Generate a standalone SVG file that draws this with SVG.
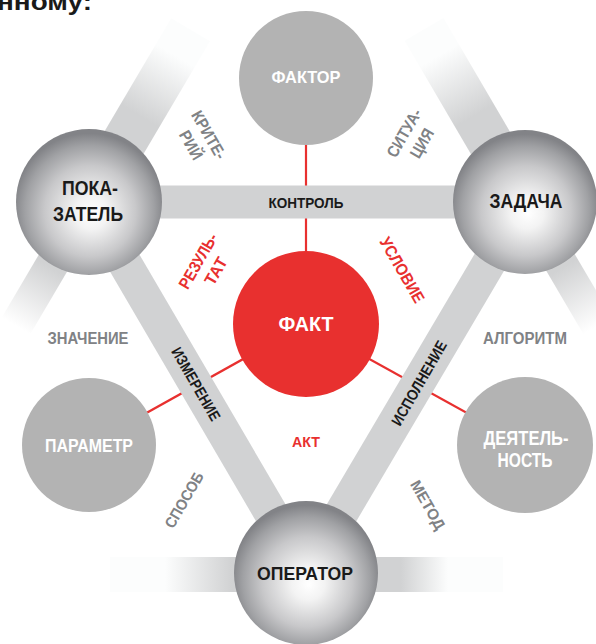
<svg xmlns="http://www.w3.org/2000/svg" width="596" height="644" viewBox="0 0 596 644">
<defs>
  <radialGradient id="sphere" cx="0.5" cy="0.55" r="0.52" fx="0.52" fy="0.58">
    <stop offset="0" stop-color="#ffffff"/>
    <stop offset="0.22" stop-color="#f3f3f3"/>
    <stop offset="0.6" stop-color="#c8c8ca"/>
    <stop offset="0.85" stop-color="#a0a1a4"/>
    <stop offset="1" stop-color="#828387"/>
  </radialGradient>
  <linearGradient id="gUL" gradientUnits="userSpaceOnUse" x1="89" y1="202" x2="190.6" y2="29.8">
    <stop offset="0" stop-color="#d1d2d3"/>
    <stop offset="0.5" stop-color="#d1d2d3"/>
    <stop offset="0.85" stop-color="#fcfdfd"/>
    <stop offset="1" stop-color="#fcfdfd"/>
  </linearGradient>
  <linearGradient id="gUR" gradientUnits="userSpaceOnUse" x1="525" y1="202" x2="424" y2="29.4">
    <stop offset="0" stop-color="#d1d2d3"/>
    <stop offset="0.5" stop-color="#d1d2d3"/>
    <stop offset="0.85" stop-color="#fcfdfd"/>
    <stop offset="1" stop-color="#fcfdfd"/>
  </linearGradient>
  <linearGradient id="gLL" gradientUnits="userSpaceOnUse" x1="89" y1="202" x2="-2.4" y2="357">
    <stop offset="0" stop-color="#d1d2d3"/>
    <stop offset="0.42" stop-color="#d1d2d3"/>
    <stop offset="0.8" stop-color="#ffffff"/>
    <stop offset="1" stop-color="#ffffff"/>
  </linearGradient>
  <linearGradient id="gLR" gradientUnits="userSpaceOnUse" x1="525" y1="202" x2="616" y2="357">
    <stop offset="0" stop-color="#d1d2d3"/>
    <stop offset="0.42" stop-color="#d1d2d3"/>
    <stop offset="0.8" stop-color="#ffffff"/>
    <stop offset="1" stop-color="#ffffff"/>
  </linearGradient>
  <linearGradient id="gB" gradientUnits="userSpaceOnUse" x1="110" y1="0" x2="503" y2="0">
    <stop offset="0" stop-color="#fcfdfd"/>
    <stop offset="0.14" stop-color="#fcfdfd"/>
    <stop offset="0.31" stop-color="#d1d2d3"/>
    <stop offset="0.74" stop-color="#d1d2d3"/>
    <stop offset="0.86" stop-color="#fcfdfd"/>
    <stop offset="1" stop-color="#fcfdfd"/>
  </linearGradient>
</defs>
<style>
  .bar{stroke:#d1d2d3;stroke-width:34;fill:none}
  .red{stroke:#e8302f;stroke-width:2.2;fill:none}
  .t{font-family:"Liberation Sans",Arial,sans-serif;font-weight:bold;text-anchor:middle}
  .wt{fill:#ffffff}
  .bk{fill:#1a1a1a}
  .gr{fill:#808285}
  .rd{fill:#e8302f}
  .gray{fill:#b3b3b3}
  .sph{fill:url(#sphere)}
</style>
<rect width="596" height="644" fill="#ffffff"/>
<text x="-3" y="10" font-family="Liberation Sans, Arial, sans-serif" font-weight="bold" font-size="24" fill="#1a1a1a" textLength="95" lengthAdjust="spacingAndGlyphs">нному:</text>

<g id="connectors">
  <line class="red" x1="306" y1="78" x2="306" y2="324"/>
  <line class="red" x1="306" y1="324" x2="89" y2="445"/>
  <line class="red" x1="306" y1="324" x2="525" y2="445"/>
  <line x1="89" y1="202" x2="190.6" y2="29.8" stroke="url(#gUL)" stroke-width="45"/>
  <line x1="525" y1="202" x2="424" y2="29.4" stroke="url(#gUR)" stroke-width="45"/>
  <line x1="89" y1="202" x2="-2.4" y2="357" stroke="url(#gLL)" stroke-width="33"/>
  <line x1="525" y1="202" x2="616" y2="357" stroke="url(#gLR)" stroke-width="33"/>
  <rect x="110" y="557" width="393" height="35" fill="url(#gB)"/>
  <line class="bar" x1="89" y1="202" x2="525" y2="202" style="stroke-width:33"/>
  <line class="bar" x1="89" y1="202" x2="306" y2="573"/>
  <line class="bar" x1="525" y1="202" x2="306" y2="573"/>
  <text class="t bk" x="306" y="208" font-size="15.5" textLength="75" lengthAdjust="spacingAndGlyphs">КОНТРОЛЬ</text>
  <text class="t bk" transform="translate(196,384) rotate(60)" x="0" y="5.5" font-size="15.5" textLength="82" lengthAdjust="spacingAndGlyphs">ИЗМЕРЕНИЕ</text>
  <text class="t bk" transform="translate(419,383) rotate(-60)" x="0" y="5.5" font-size="15.5" textLength="95" lengthAdjust="spacingAndGlyphs">ИСПОЛНЕНИЕ</text>
</g>

<g id="faktor">
  <circle class="gray" cx="306" cy="78" r="67"/>
  <text class="t wt" x="306" y="83" font-size="16.5" textLength="69" lengthAdjust="spacingAndGlyphs">ФАКТОР</text>
</g>
<g id="pokazatel">
  <circle class="sph" cx="89" cy="202" r="73"/>
  <text class="t bk" x="90" y="195" font-size="21" textLength="56" lengthAdjust="spacingAndGlyphs">ПОКА-</text>
  <text class="t bk" x="88" y="221" font-size="21" textLength="70" lengthAdjust="spacingAndGlyphs">ЗАТЕЛЬ</text>
</g>
<g id="zadacha">
  <circle class="sph" cx="525" cy="202" r="72"/>
  <text class="t bk" x="526" y="208" font-size="21" textLength="73" lengthAdjust="spacingAndGlyphs">ЗАДАЧА</text>
</g>
<g id="fakt">
  <circle cx="306" cy="324" r="73" fill="#e8302f"/>
  <text class="t wt" x="306" y="331" font-size="20" textLength="55" lengthAdjust="spacingAndGlyphs">ФАКТ</text>
</g>
<g id="parametr">
  <circle class="gray" cx="89" cy="445" r="67"/>
  <text class="t wt" x="89" y="452" font-size="18.5" textLength="88" lengthAdjust="spacingAndGlyphs">ПАРАМЕТР</text>
</g>
<g id="deyatelnost">
  <circle class="gray" cx="525" cy="445" r="68"/>
  <text class="t wt" x="526" y="445" font-size="20" textLength="85" lengthAdjust="spacingAndGlyphs">ДЕЯТЕЛЬ-</text>
  <text class="t wt" x="525" y="467" font-size="20" textLength="55" lengthAdjust="spacingAndGlyphs">НОСТЬ</text>
</g>
<g id="operator">
  <circle class="sph" cx="306" cy="573" r="72"/>
  <text class="t bk" x="305" y="580" font-size="19" textLength="96" lengthAdjust="spacingAndGlyphs">ОПЕРАТОР</text>
</g>

<g id="labels">
  <text class="t gr" x="88" y="343.5" font-size="16" textLength="81" lengthAdjust="spacingAndGlyphs">ЗНАЧЕНИЕ</text>
  <text class="t gr" x="525" y="343.5" font-size="16" textLength="84" lengthAdjust="spacingAndGlyphs">АЛГОРИТМ</text>
  <g transform="translate(200,140) rotate(60)">
    <text class="t gr" x="0" y="-4.5" font-size="16.5" textLength="53" lengthAdjust="spacingAndGlyphs">КРИТЕ-</text>
    <text class="t gr" x="0" y="16" font-size="16.5" textLength="31" lengthAdjust="spacingAndGlyphs">РИЙ</text>
  </g>
  <g transform="translate(413,138) rotate(-60)">
    <text class="t gr" x="0" y="-4.5" font-size="16.5" textLength="53" lengthAdjust="spacingAndGlyphs">СИТУА-</text>
    <text class="t gr" x="0" y="16" font-size="16.5" textLength="31" lengthAdjust="spacingAndGlyphs">ЦИЯ</text>
  </g>
  <g transform="translate(207,266) rotate(-60)">
    <text class="t rd" x="0" y="-4.5" font-size="16.5" textLength="61" lengthAdjust="spacingAndGlyphs">РЕЗУЛЬ-</text>
    <text class="t rd" x="0" y="16" font-size="16.5" textLength="29" lengthAdjust="spacingAndGlyphs">ТАТ</text>
  </g>
  <text class="t rd" transform="translate(402,270) rotate(60)" x="0" y="5.5" font-size="16.5" textLength="73" lengthAdjust="spacingAndGlyphs">УСЛОВИЕ</text>
  <text class="t rd" x="306" y="447" font-size="15.5" textLength="28" lengthAdjust="spacingAndGlyphs">АКТ</text>
  <text class="t gr" transform="translate(184,500) rotate(-60)" x="0" y="5.5" font-size="15.5" textLength="62" lengthAdjust="spacingAndGlyphs">СПОСОБ</text>
  <text class="t gr" transform="translate(428,505) rotate(60)" x="0" y="5.5" font-size="15.5" textLength="54" lengthAdjust="spacingAndGlyphs">МЕТОД</text>
</g>
</svg>
